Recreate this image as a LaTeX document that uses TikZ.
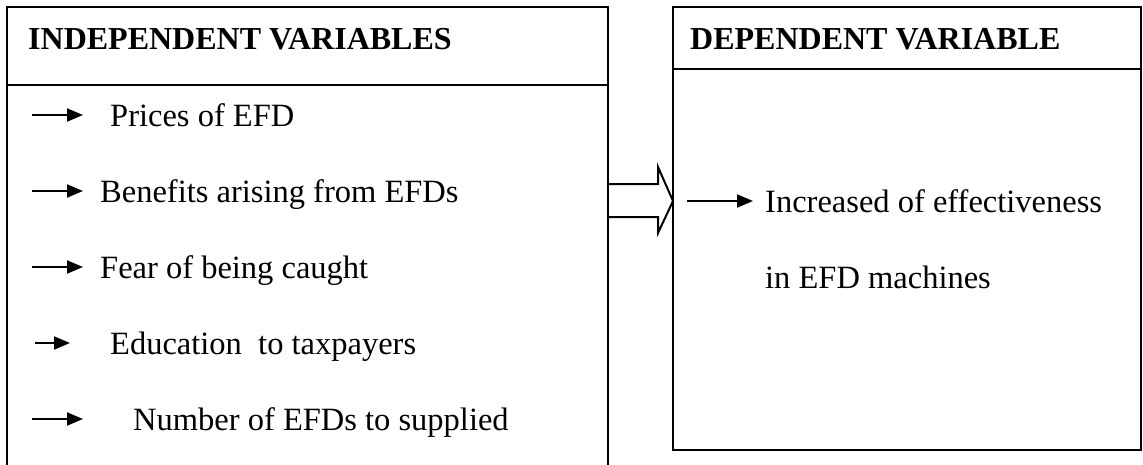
\documentclass[tikz,border=0pt]{standalone}
\usepackage{fontspec}
\setmainfont{Liberation Serif}
\usetikzlibrary{arrows.meta,positioning}
\tikzset{
 box/.style={draw,line width=2.2pt},
 itemtext/.style={anchor=base west,inner sep=0pt,font=\fontsize{32.5}{38}\selectfont},
 headtext/.style={anchor=base west,inner sep=0pt,font=\fontsize{32}{38}\selectfont\bfseries},
 itemarrow/.style={line width=2pt,-{Triangle[length=16pt,width=13pt]}},
 bigarrow/.style={line width=2pt,line join=miter}
}

\begin{document}
\begin{tikzpicture}[x=1pt,y=-1pt]
\useasboundingbox (0,0) rectangle (1143,464);
% boxes
\draw[box] (7,470) -- (7,7) -- (608,7) -- (608,470);
\draw[box] (7,85) -- (608,85);
\draw[box] (673,7) rectangle (1141,450);
\draw[box] (673,69) -- (1141,69);
% headers
\node[headtext] (lhead) at (28,49) {INDEPENDENT VARIABLES};
\node[headtext] (rhead) at (690,49) {DEPENDENT VARIABLE};
% independent variables
\node[itemtext] (p1) at (110,126) {Prices of EFD};
\node[itemtext] (p2) at (100,202) {Benefits arising from EFDs};
\node[itemtext] (p3) at (100,278) {Fear of being caught};
\node[itemtext] (p4) at (110,354) {Education\ \ to taxpayers};
\node[itemtext] (p5) at (133,430) {Number of EFDs to supplied};
\coordinate (a1) at (32,115);
\coordinate (a2) at (32,191);
\coordinate (a3) at (32,267);
\coordinate (a4) at (35,343);
\coordinate (a5) at (32,419);
\draw[itemarrow,shorten >=27pt] (a1) -- (a1 -| p1.west);
\draw[itemarrow,shorten >=17pt] (a2) -- (a2 -| p2.west);
\draw[itemarrow,shorten >=17pt] (a3) -- (a3 -| p3.west);
\draw[itemarrow,shorten >=40pt] (a4) -- (a4 -| p4.west);
\draw[itemarrow,shorten >=50pt] (a5) -- (a5 -| p5.west);
% dependent variable
\node[itemtext] (r1) at (765,212) {Increased of effectiveness};
\node[itemtext] (r2) at (765,288) {in EFD machines};
\coordinate (b1) at (687,201);
\draw[itemarrow,shorten >=12pt] (b1) -- (b1 -| r1.west);
% hollow arrow between the boxes
\draw[bigarrow] (608,184) -- (658,184) -- (658,167) -- (673,201)
  -- (658,233) -- (658,217) -- (608,217);
\end{tikzpicture}
\end{document}
